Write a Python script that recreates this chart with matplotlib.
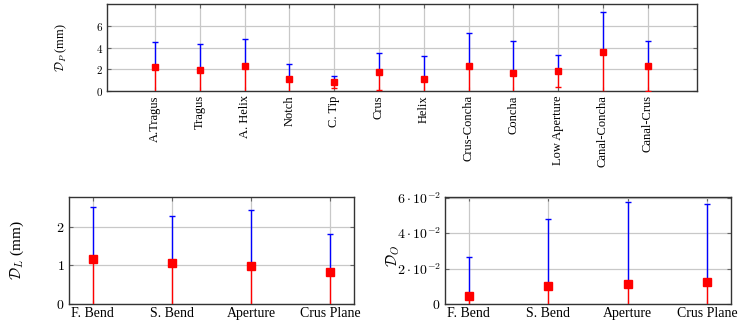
import numpy as np
import matplotlib
matplotlib.use("Agg")
import matplotlib.pyplot as plt

plt.rcParams['font.family'] = ['Liberation Serif', 'DejaVu Serif']
plt.rcParams['mathtext.fontset'] = 'cm'

# top panel: positional error per landmark
p_labels = ['A.Tragus', 'Tragus', 'A. Helix', 'Notch', 'C. Tip', 'Crus', 'Helix',
            'Crus-Concha', 'Concha', 'Low Aperture', 'Canal-Concha', 'Canal-Crus']
p_mean = [2.19, 1.94, 2.31, 1.11, 0.83, 1.75, 1.11, 2.28, 1.66, 1.82, 3.60, 2.31]
p_upper = [4.52, 4.28, 4.77, 2.47, 1.36, 3.45, 3.20, 5.33, 4.59, 3.27, 7.27, 4.59]

# bottom panels
b_labels = ['F. Bend', 'S. Bend', 'Aperture', 'Crus Plane']
l_mean = [1.16, 1.05, 0.99, 0.84]
l_upper = [2.52, 2.28, 2.43, 1.80]
o_mean = [0.0047, 0.0099, 0.0112, 0.0125]
o_upper = [0.0267, 0.0480, 0.0575, 0.0562]

W, H = 741, 329
fig = plt.figure(figsize=(W / 100, H / 100), dpi=100)


def box(l, t, r, b):
    return [l / W, 1 - b / H, (r - l) / W, (b - t) / H]


def draw(ax, mean, upper, ms, cap):
    x = np.arange(len(mean))
    mean = np.array(mean)
    err = np.array(upper) - mean
    zero = np.zeros_like(err)
    # upper half of the bar in blue, lower half in red
    ax.errorbar(x, mean, yerr=[zero, err], fmt='none', ecolor='blue',
                elinewidth=1.0, capsize=cap, capthick=1.0, zorder=3)
    ax.errorbar(x, mean, yerr=[err, zero], fmt='none', ecolor='red',
                elinewidth=1.0, capsize=cap, capthick=1.0, zorder=3)
    ax.plot(x, mean, 's', color='red', markersize=ms, zorder=4, linestyle='none')


def style(ax, fs):
    ax.grid(True, color='#c8c8c8', linewidth=0.9, zorder=0)
    ax.set_axisbelow(True)
    ax.tick_params(direction='in', length=3, width=0.8, top=True, right=True,
                   color='#666666', labelsize=fs, pad=3)
    for s in ax.spines.values():
        s.set_color('#333333')
        s.set_linewidth(1.0)


# top
ax1 = fig.add_axes(box(107, 4, 697, 91))
draw(ax1, p_mean, p_upper, 5, 2)
style(ax1, 8)
ax1.set_xlim(-1.07, 12.1)
ax1.set_ylim(0, 8)
ax1.set_yticks([0, 2, 4, 6])
ax1.set_yticklabels(['$0$', '$2$', '$4$', '$6$'])
ax1.set_xticks(np.arange(len(p_labels)))
ax1.set_xticklabels(p_labels, rotation=90, fontsize=9)
ax1.set_ylabel(r'$\mathcal{D}_P$ (mm)', fontsize=9)
ax1.yaxis.set_label_coords(-0.065, 0.5)

# bottom left
ax2 = fig.add_axes(box(69, 197, 354, 304))
draw(ax2, l_mean, l_upper, 5.5, 2.5)
style(ax2, 10)
ax2.set_xlim(-0.3, 3.3)
ax2.set_ylim(0, 2.77)
ax2.set_yticks([0, 1, 2])
ax2.set_yticklabels(['$0$', '$1$', '$2$'])
ax2.set_xticks(np.arange(len(b_labels)))
ax2.set_xticklabels(b_labels, fontsize=10)
ax2.tick_params(axis='x', pad=2)
ax2.set_ylabel(r'$\mathcal{D}_L$ (mm)', fontsize=11)
ax2.yaxis.set_label_coords(-0.15, 0.5)

# bottom right
ax3 = fig.add_axes(box(445, 197, 731, 304))
draw(ax3, o_mean, o_upper, 5.5, 2.5)
style(ax3, 10)
ax3.set_xlim(-0.3, 3.3)
ax3.set_ylim(0, 0.0603)
ax3.set_yticks([0, 0.02, 0.04, 0.06])
ax3.set_yticklabels(['$0$', r'$2\cdot10^{-2}$', r'$4\cdot10^{-2}$', r'$6\cdot10^{-2}$'])
ax3.set_xticks(np.arange(len(b_labels)))
ax3.set_xticklabels(b_labels, fontsize=10)
ax3.tick_params(axis='x', pad=2)
ax3.set_ylabel(r'$\mathcal{D}_O$', fontsize=11)
ax3.yaxis.set_label_coords(-0.15, 0.45)

fig.savefig('out.png', dpi=100)
